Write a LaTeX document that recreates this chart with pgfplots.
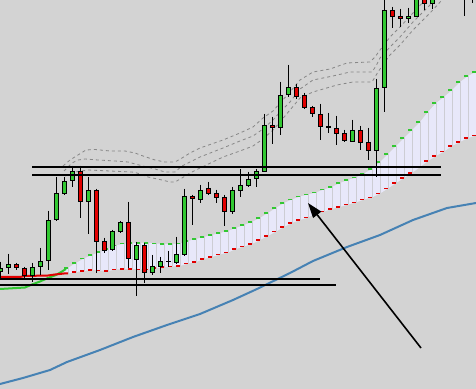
\documentclass[border=0pt]{standalone}
\usepackage{pgfplots}
\pgfplotsset{compat=1.18}
\usepackage{pgfplotstable}
\usepgfplotslibrary{fillbetween}
\usetikzlibrary{arrows.meta}
\definecolor{bgc}{RGB}{211,211,211}
\definecolor{cg}{RGB}{50,200,50}
\definecolor{cr}{RGB}{225,0,0}
\definecolor{lav}{RGB}{232,232,250}
\definecolor{lavline}{RGB}{205,205,212}
\definecolor{bl}{RGB}{70,130,180}
\definecolor{band}{RGB}{135,135,135}

% green candles: x, body top, body bottom, high, low (pixel rows)
\pgfplotstableread{
x t b h l
0.5 268 272 262 278
8.5 264 268 254 274
32.5 267 276 263 282
40.5 261 267 248 275
48.5 220 261 211 270
56.5 193 220 177 221
64.5 181 194 177 195
72.5 171 181 166 187
88.5 190 202 177 234
112.5 231 250 230 251
120.5 222 232 221 233
136.5 245 260 242 296
152.5 266 273 255 275
160.5 261 267 257 273
176.5 254 263 237 264
184.5 196 255 189 256
200.5 190 200 185 203
232.5 190 212 187 214
240.5 185 191 169 197
248.5 179 186 172 187
256.5 171 179 169 187
264.5 125 172 114 172
280.5 95 128 82 135
288.5 87 95 65 97
352.5 130 142 120 142
376.5 88 151 79 177
384.5 10 88 -5 112
408.5 16 19 8 23
416.5 -10 17 -20 17
432.5 -5 4 -10 9
464.5 -30 -10 -40 16
472.5 -30 -10 -40 3
}\gcandles

\pgfplotstableread{
x t b h l
16.5 264 268 263 270
24.5 268 276 267 278
80.5 171 202 166 218
96.5 190 242 189 273
104.5 241 251 238 253
128.5 222 259 202 268
144.5 245 273 243 283
192.5 196 199 195 225
208.5 188 194 182 195
216.5 193 198 190 203
224.5 197 212 195 226
272.5 125 128 117 144
296.5 87 97 84 99
304.5 95 108 93 109
312.5 107 114 106 117
320.5 114 127 104 140
328.5 126 128 113 133
336.5 128 134 116 145
344.5 133 141 130 142
360.5 130 143 126 150
368.5 142 151 128 160
392.5 10 17 7 28
400.5 16 19 9 27
424.5 -5 4 -10 10
}\rcandles

\pgfplotstableread{
x t b h l
168.5 261.5 262.5 251 267
}\dcandles

% cloud: upper (green) and lower (red) lines
\pgfplotstableread{
x g r
64 270 273.5
68 268 273.5
76 263 272
84 258.5 271
92 255 270
100 252 270.5
108 249 271
116 245.5 269.5
124 243.5 269
132 243 269
140 243 269.5
148 243 269.5
156 243.5 268
164 244 267
172 244 266.5
180 243.5 266
188 241 263.5
196 239 262
204 237 259
212 235 257
220 233 254.5
228 231 252.5
236 228 249
244 225 246.5
252 222 244
260 218 240
268 213 236
276 208 231.5
284 203 227
292 199.5 223
300 196.5 220
308 194.5 217.5
316 192.5 213.5
324 189.5 211.5
332 187 209
340 183 207
348 180 204.5
356 177.5 202.5
364 173.5 199.5
372 169 197.5
380 162 193.5
388 154 188.5
396 146 183
404 138 178
412 130 173
420 122 167
428 112 161
436 103 156
444 97 151.5
452 90 146
460 82 142
468 76 138
476 72 135.5
}\cloud

\pgfplotstableread{
x g r
68 268 273.5
76 263 272
84 258.5 271
92 255 270
100 252 270.5
108 249 271
116 245.5 269.5
124 243.5 269
132 243 269
140 243 269.5
148 243 269.5
156 243.5 268
164 244 267
172 244 266.5
180 243.5 266
188 241 263.5
196 239 262
204 237 259
212 235 257
220 233 254.5
228 231 252.5
236 228 249
244 225 246.5
252 222 244
260 218 240
268 213 236
276 208 231.5
284 203 227
292 199.5 223
300 196.5 220
308 194.5 217.5
316 192.5 213.5
324 189.5 211.5
332 187 209
340 183 207
348 180 204.5
356 177.5 202.5
364 173.5 199.5
372 169 197.5
380 162 193.5
388 154 188.5
396 146 183
404 138 178
412 130 173
420 122 167
428 112 161
436 103 156
444 97 151.5
452 90 146
460 82 142
468 76 138
476 72 135.5
}\cloudbars

\pgfplotsset{
  vbar/.style 2 args={only marks, no markers, mark size=0pt, forget plot,
    error bars/.cd, y dir=plus, y explicit, error mark=none,
    error bar style={#1, line width=#2}},
  hbar/.style 2 args={only marks, no markers, mark size=0pt, forget plot,
    error bars/.cd, x dir=minus, x fixed=4, error mark=none,
    error bar style={#1, line width=#2}},
}

\begin{document}
\begin{tikzpicture}
\begin{axis}[
  scale only axis, width=476bp, height=389bp,
  xmin=0, xmax=476, ymin=0, ymax=389, y dir=reverse,
  axis line style={draw=none}, ticks=none,
  axis background/.style={fill=bgc},
]
% envelope bands
\addplot[band, line width=0.8bp, dash pattern=on 3bp off 3bp] coordinates {
(63,166)(70,160)(78,155)(86,150)(95,149.5)(110,151)(125,151)(135,153)(143,156)(155,160)(165,162)(175,162)(182,158)(190,153)(200,148)(223,140)(240,133)(253,127)(263,118)(273,111)(280,103)(290,92)(300,80)(313,72)(330,69)(347,63)(370,62)(375,57)(380,50)(390,37)(400,27)(413,13)(425,0)(432,-6)};
\addplot[band, line width=0.8bp, dash pattern=on 3bp off 3bp] coordinates {
(64,171)(72,163)(78,160)(85,159)(98,160)(115,161)(128,162)(135,164)(143,166)(155,169)(165,172)(175,172)(182,166)(190,162)(200,157)(223,148)(240,141)(253,136)(263,129)(273,120)(280,112)(290,102)(300,89)(313,80)(333,76)(350,72)(372,72)(376,66)(380,58)(390,47)(400,37)(413,22)(430,5)(436,0)(442,-5)};
\addplot[band, line width=0.8bp, dash pattern=on 3bp off 3bp] coordinates {
(65,176)(75,172)(88,170)(110,171)(132,172)(137,173)(148,177)(162,180)(170,182)(175,182)(182,178)(190,173)(200,168)(223,157)(240,151)(253,146)(263,139)(273,130)(280,122)(290,110)(300,98)(313,92)(337,85)(353,82)(372,82)(378,72)(385,62)(390,55)(400,45)(413,30)(430,13)(442,0)(448,-5)};
% long moving average
\addplot[bl, line width=2bp] coordinates {
(0,384)(23,378)(50,370)(67,362)(100,350)(133,337)(167,325)(200,314)(233,300)(257,289)(290,273)(313,261)(347,247)(380,235)(413,220)(447,208)(476,203)};
% cloud
\addplot[name path=G, draw=none, forget plot] table[x=x, y=g] {\cloud};
\addplot[name path=R, draw=none, forget plot] table[x=x, y=r] {\cloud};
\addplot[lav, forget plot] fill between[of=G and R];
\addplot[vbar={lavline}{1bp}] table[x=x, y=g, y error plus expr={\thisrow{r}-\thisrow{g}}] {\cloudbars};
\addplot[hbar={cg}{1.5bp}] table[x=x, y=g] {\cloudbars};
\addplot[hbar={cr}{1.5bp}] table[x=x, y=r] {\cloudbars};
% solid part of the two lines before they cross
\addplot[cg, line width=2bp] coordinates {(0,289)(25,287.5)(32,284.5)(40,281.5)(48,278)(56,275)(62,271.5)(66,269)};
\addplot[cr, line width=2bp] coordinates {(0,277)(20,277)(25,276)(48,275.5)(55,274.5)(64,273.5)(68,273.5)};
% candles: wicks
\addplot[vbar={black}{1bp}] table[x=x, y=h, y error plus expr={\thisrow{l}-\thisrow{h}}] {\gcandles};
\addplot[vbar={black}{1bp}] table[x=x, y=h, y error plus expr={\thisrow{l}-\thisrow{h}}] {\rcandles};
\addplot[vbar={black}{1bp}] table[x=x, y=h, y error plus expr={\thisrow{l}-\thisrow{h}}] {\dcandles};
% candles: bodies
\addplot[vbar={black}{5bp}] table[x=x, y=t, y error plus expr={\thisrow{b}-\thisrow{t}}] {\gcandles};
\addplot[vbar={black}{5bp}] table[x=x, y=t, y error plus expr={\thisrow{b}-\thisrow{t}}] {\rcandles};
\addplot[vbar={black}{5bp}] table[x=x, y=t, y error plus expr={\thisrow{b}-\thisrow{t}}] {\dcandles};
\addplot[vbar={cg}{3bp}] table[x=x, y expr={\thisrow{t}+1}, y error plus expr={max(\thisrow{b}-\thisrow{t}-2,0)}] {\gcandles};
\addplot[vbar={cr}{3bp}] table[x=x, y expr={\thisrow{t}+1}, y error plus expr={max(\thisrow{b}-\thisrow{t}-2,0)}] {\rcandles};
% horizontal levels
\addplot[black, line width=2bp] coordinates {(32,167.5)(441,167.5)};
\addplot[black, line width=2bp] coordinates {(32,175.5)(441,175.5)};
\addplot[black, line width=2bp] coordinates {(0,279.5)(320,279.5)};
\addplot[black, line width=2bp] coordinates {(0,285.5)(336,285.5)};
% arrow
\addplot[black, line width=1.6bp, -{Triangle[length=15bp, width=10bp]}] coordinates {(421,348)(308,203)};
\end{axis}
\end{tikzpicture}
\end{document}
